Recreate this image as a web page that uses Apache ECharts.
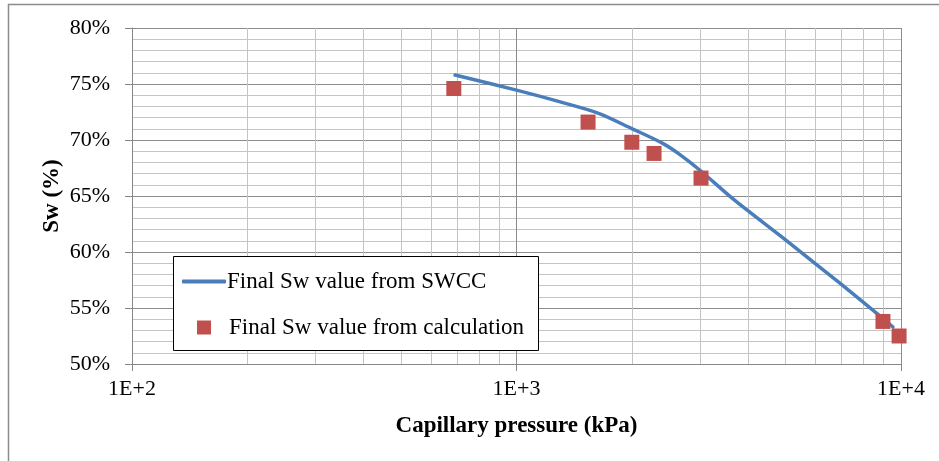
<!DOCTYPE html>
<html>
<head>
<meta charset="utf-8">
<script src="https://cdn.jsdelivr.net/npm/echarts@6/dist/echarts.min.js"></script>
<style>
  html, body { margin: 0; padding: 0; background: #fff; }
  #chart { width: 939px; height: 461px; }
</style>
</head>
<body>
<div id="chart"></div>
<script>
// SWCC curve: capillary pressure (kPa) vs. Sw (%)
const swccPressure = [692, 1000, 1300, 1629, 2000, 2400, 2661, 3000, 3698, 5000, 7000, 8810, 9530];
const swccSw       = [75.8, 74.45, 73.4, 72.4, 71.0, 69.7, 68.7, 67.3, 64.6, 61.1, 57.1, 54.3, 53.3];

// Calculated points
const calcPressure = [687, 1535, 1995, 2279, 3019, 8976, 9886];
const calcSw       = [74.6, 71.6, 69.8, 68.8, 66.6, 53.8, 52.5];

// Axis settings
const xTickLabels = { 100: '1E+2', 1000: '1E+3', 10000: '1E+4' };
const xMinorGrid = [200, 300, 400, 500, 600, 700, 800, 900, 2000, 3000, 4000, 5000, 6000, 7000, 8000, 9000];

const seriesNames = ['Final Sw value from SWCC', 'Final Sw value from calculation'];

const serif = '"Liberation Serif", "Times New Roman", serif';

const chart = echarts.init(document.getElementById('chart'));

chart.setOption({
  animation: false,
  backgroundColor: '#fff',
  textStyle: { fontFamily: serif },
  grid: { left: 132, right: 38, top: 28, bottom: 97, containLabel: false },
  xAxis: {
    type: 'log',
    logBase: 10,
    min: 100,
    max: 10000,
    name: 'Capillary pressure (kPa)',
    nameLocation: 'middle',
    nameMoveOverlap: false,
    nameGap: 51,
    nameTextStyle: { fontFamily: serif, fontSize: 23, fontWeight: 'bold', color: '#000' },
    axisLine: { show: true, lineStyle: { color: '#868686', width: 1 } },
    axisTick: { show: true, inside: false, length: 7, lineStyle: { color: '#868686' } },
    axisLabel: {
      fontFamily: serif, fontSize: 22, color: '#000', margin: 14,
      formatter: v => xTickLabels[Math.round(v)] || ''
    },
    splitLine: { show: true, lineStyle: { color: '#8c8c8c', width: 1 } },
    minorTick: { show: false },
    minorSplitLine: { show: false }
  },
  yAxis: {
    type: 'value',
    min: 50,
    max: 80,
    interval: 5,
    name: 'Sw (%)',
    nameLocation: 'middle',
    nameRotate: 90,
    nameMoveOverlap: false,
    nameGap: 68,
    nameTextStyle: { fontFamily: serif, fontSize: 23, fontWeight: 'bold', color: '#000' },
    axisLine: { show: true, lineStyle: { color: '#868686', width: 1 } },
    axisTick: { show: true, inside: false, length: 7, lineStyle: { color: '#868686' } },
    axisLabel: {
      fontFamily: serif, fontSize: 22, color: '#000', margin: 22,
      formatter: v => v + '%'
    },
    splitLine: { show: true, lineStyle: { color: '#8c8c8c', width: 1 } },
    minorTick: { show: false, splitNumber: 5 },
    minorSplitLine: { show: true, lineStyle: { color: '#c4c4c4', width: 1 } }
  },
  legend: [
    {
      data: [{ name: seriesNames[0], icon: 'roundRect' }],
      left: 182, top: 270,
      z: 20,
      orient: 'vertical',
      itemWidth: 44, itemHeight: 4, itemGap: 0,
      itemStyle: { color: '#4a7ebb', borderWidth: 0 },
      textStyle: { fontFamily: serif, fontSize: 23, color: '#000', padding: [0, 0, 0, -4] },
      padding: 0
    },
    {
      data: [seriesNames[1]],
      left: 197, top: 316,
      z: 20,
      orient: 'vertical',
      itemWidth: 14, itemHeight: 14, itemGap: 0,
      textStyle: { fontFamily: serif, fontSize: 23, color: '#000', padding: [0, 0, 0, 13] },
      padding: 0
    }
  ],
  graphic: [
    {
      type: 'rect', z: 100,
      shape: { x: 8.5, y: 4.5, width: 960, height: 480 },
      style: { fill: 'none', stroke: '#8c8c8c', lineWidth: 1.5 },
      silent: true
    },
    {
      type: 'rect', z: 3,
      shape: { x: 173.5, y: 256.5, width: 365, height: 94 },
      style: { fill: '#fff', stroke: '#000', lineWidth: 1 },
      silent: true
    }
  ],
  series: [
    {
      name: seriesNames[0],
      type: 'line',
      data: swccPressure.map((p, i) => [p, swccSw[i]]),
      smooth: 0.3,
      symbol: 'none',
      lineStyle: { color: '#4a7ebb', width: 3.5, cap: 'round' },
      itemStyle: { color: '#4a7ebb' },
      z: 3,
      markLine: {
        z: 1,
        silent: true,
        symbol: 'none',
        label: { show: false },
        animation: false,
        lineStyle: { color: '#c4c4c4', type: 'solid', width: 1 },
        data: xMinorGrid.map(v => ({ xAxis: v }))
      }
    },
    {
      name: seriesNames[1],
      type: 'scatter',
      data: calcPressure.map((p, i) => [p, calcSw[i]]),
      symbol: 'rect',
      symbolSize: 15,
      itemStyle: { color: '#c0504d', opacity: 1 },
      z: 4
    }
  ]
});
</script>
</body>
</html>
